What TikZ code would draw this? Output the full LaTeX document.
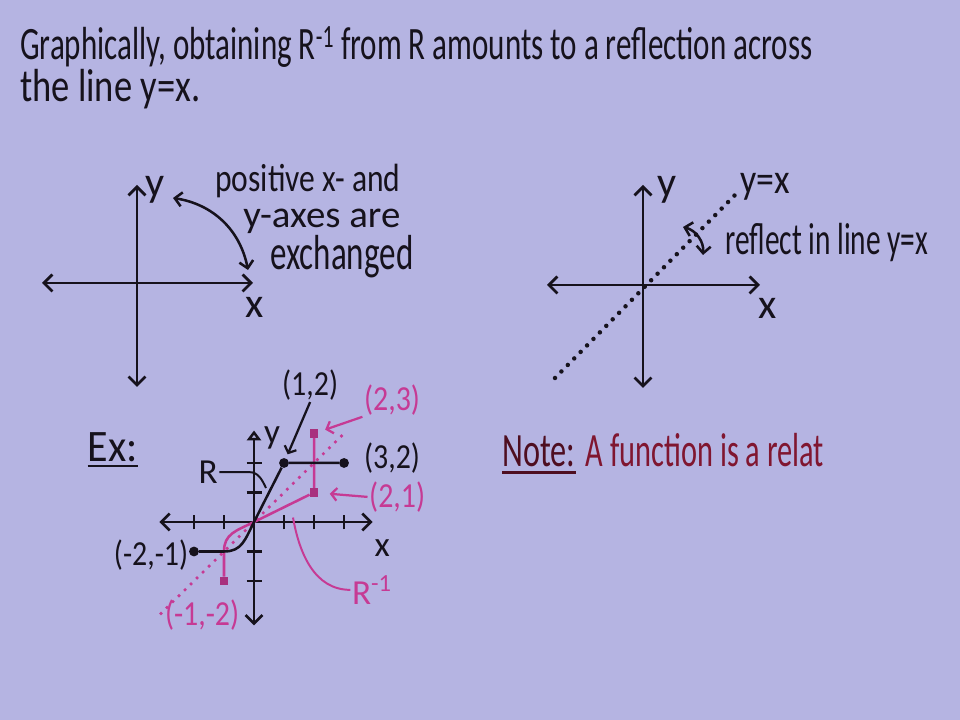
\documentclass[tikz,border=0pt]{standalone}
\usepackage{fontspec}
\setmainfont{Carlito}
\usepackage{graphicx}
\usepackage{tikz}
\usetikzlibrary{arrows.meta, positioning}
\definecolor{BgLav}{RGB}{181,180,226}
\definecolor{InkBlack}{RGB}{22,18,28}
\definecolor{ExPink}{RGB}{198,58,148}
\definecolor{NoteRed}{RGB}{128,22,48}
\definecolor{NoteDark}{RGB}{78,14,32}
\newcommand{\fitw}[2]{\resizebox{#1}{\height}{#2}}
\newcommand{\slim}[1]{\scalebox{0.85}[1]{#1}}

\begin{document}
\begin{tikzpicture}[x=0.025cm, y=0.025cm,
    ink/.style={InkBlack, line width=2pt},
    axis/.style={ink, {Straight Barb[length=6pt,width=12pt]}-{Straight Barb[length=6pt,width=12pt]}},
    hand/.style={font=\fontsize{30}{34}\selectfont, text=InkBlack, inner sep=0pt},
    lbl/.style={font=\fontsize{25}{28}\selectfont, text=InkBlack, inner sep=1pt},
    pinklbl/.style={lbl, text=ExPink},
    bdot/.style={circle, fill=InkBlack, inner sep=0pt, minimum size=7pt},
    mdot/.style={rectangle, fill=ExPink!85!black, inner sep=0pt, minimum size=6pt},
    dotline/.style={line width=3.2pt, line cap=round, dash pattern=on 0pt off 6.5pt},
    swap/.style={ink, line width=1.8pt, {Straight Barb[length=5pt,width=10pt]}-{Straight Barb[length=5pt,width=10pt]}},
    pointer/.style={line width=1.6pt, -{Straight Barb[length=4pt,width=9pt]}}
  ]
  \useasboundingbox (0,0) rectangle (960,720);
  \fill[BgLav] (0,0) rectangle (960,720);

  % Title
  \node[hand, font=\fontsize{33}{36}\selectfont, anchor=base west] (title1) at (20,660)
        {\fitw{19.8cm}{Graphically, obtaining R\textsuperscript{-1} from R amounts to a reflection across}};
  \node[hand, font=\fontsize{33}{36}\selectfont, anchor=base west] (title2) at (20,618)
        {\fitw{4.5cm}{the line y=x.}};

  % Axes exchanged
  \draw[axis] (42,437) -- (253,437);
  \draw[axis] (137,333) -- (137,535);
  \node[hand] (ly) at (155,530) {y};
  \node[hand] (lx) at (255,413) {x};
  \coordinate (swapA) at (173,522);
  \coordinate (swapB) at (248,450);
  \draw[swap] (swapA) to[bend left=35] (swapB);
  \node[hand, font=\fontsize{28}{32}\selectfont, anchor=base west] (pos1) at (215,528)
        {\fitw{4.625cm}{positive x- and}};
  \node[hand, font=\fontsize{27}{32}\selectfont, anchor=base west] (pos2) at (243,492)
        {\fitw{3.925cm}{y-axes are}};
  \node[hand, font=\fontsize{35}{38}\selectfont, anchor=base west] (pos3) at (270,450)
        {\fitw{3.575cm}{exchanged}};

  % Reflection in y=x
  \draw[axis] (547,435) -- (760,435);
  \draw[axis] (643,332) -- (643,535);
  \draw[ink, dotline] (555,342) -- (737,527);
  \node[hand] (ry) at (667,530) {y};
  \node[hand] (rx) at (768,412) {x};
  \node[hand] (ryx) at (765,533) {\slim{y=x}};
  \coordinate (reflA) at (683,493);
  \coordinate (reflB) at (703,465);
  \draw[swap] (reflA) to[bend left=40] (reflB);
  \node[hand, font=\fontsize{32}{36}\selectfont, anchor=base west] (refl) at (725,465)
        {\fitw{5.075cm}{reflect in line y=x}};

  % Example
  \node[hand, font=\fontsize{32}{36}\selectfont] (exlbl) at (113,273) {\fitw{1.25cm}{Ex:}};
  \draw[ink, line width=1.6pt] ([yshift=-3pt]exlbl.south west) -- ([yshift=-3pt]exlbl.south east);

  \coordinate (exO) at (254,198);
  \begin{scope}[shift={(exO)}, x=0.75cm, y=0.7375cm]
    \draw[axis, line width=1.8pt] (-3.15,0) -- (3.95,0);
    \draw[ink, line width=1.8pt, {Straight Barb[length=6pt,width=12pt]}-{Triangle[open,length=7pt,width=10pt]}]
          (0,-3.5) -- (0,3.1);
    \foreach \t in {-2,-1,1,2,3}
      \draw[ink, line width=1.6pt] (\t,-0.25) -- (\t,0.25);
    \foreach \t in {-2,-1,1,2}
      \draw[ink, line width=1.6pt] (-0.25,\t) -- (0.25,\t);

    % y = x
    \draw[ExPink, dotline, line width=2.6pt, dash pattern=on 0pt off 6pt] (-3.1,-3.1) -- (3,3);

    \node[bdot] (p12) at (1,2) {};
    \node[bdot] (p32) at (3,2) {};
    \node[bdot] (pm2m1) at (-2,-1) {};
    \node[mdot] (p21) at (2,1) {};
    \node[mdot] (p23) at (2,3) {};
    \node[mdot] (pm1m2) at (-1,-2) {};

    % R^-1
    \draw[ExPink, line width=1.8pt] (pm1m2) -- (-1,-1)
          .. controls (-1,-0.4) and (-0.6,-0.3) .. (0,0) -- (p21) -- (p23);
    % R
    \draw[ink, line width=1.8pt] (pm2m1) -- (-1,-1)
          .. controls (-0.4,-1) and (-0.3,-0.6) .. (0,0) -- (p12) -- (p32);

    \node[lbl] (l12) at (1.87,4.64) {\slim{(1,2)}};
    \draw[InkBlack, pointer, shorten >=3pt] (l12.south) -- (p12);
    \node[pinklbl] (l23) at (4.6,4.14) {\slim{(2,3)}};
    \draw[ExPink, pointer, shorten >=5pt] (l23.south west) -- (p23);
    \node[lbl] (l32) at (4.6,2.17) {\slim{(3,2)}};
    \node[pinklbl] (l21) at (4.77,0.85) {\slim{(2,1)}};
    \draw[ExPink, pointer, shorten >=8pt] (l21.west) -- (p21);
    \node[lbl] (lm2m1) at (-3.43,-1.12) {\slim{(-2,-1)}};
    \node[pinklbl] (lm1m2) at (-1.73,-3.15) {\slim{(-1,-2)}};

    \node[lbl] (lR) at (-1.53,1.69) {R};
    \coordinate (rhit) at (0.4,1.15);
    \draw[ink, line width=1.4pt] (lR.east) -- ++(1,0) to[out=0, in=115] (rhit);
    \node[pinklbl] (lRi) at (3.93,-2.3) {R\textsuperscript{-1}};
    \coordinate (rihit) at (1.3,0.15);
    \draw[ExPink, line width=1.4pt] (lRi.west) to[out=180, in=-80] (rihit);

    \node[lbl] (ex) at (4.27,-0.88) {x};
    \node[lbl] (ey) at (0.6,2.85) {y};
  \end{scope}

  % Note
  \node[hand, font=\fontsize{34}{38}\selectfont, text=NoteDark, anchor=base west] (notehead) at (502,253)
        {\fitw{1.825cm}{Note:}};
  \node[hand, font=\fontsize{34}{38}\selectfont, text=NoteRed, base right=0.25cm of notehead] (notebody)
        {\fitw{5.95cm}{A function is a relat}};
  \draw[NoteDark, line width=1.6pt] ([yshift=-3.5pt]notehead.south west) -- ([yshift=-3.5pt]notehead.south east);
\end{tikzpicture}
\end{document}
